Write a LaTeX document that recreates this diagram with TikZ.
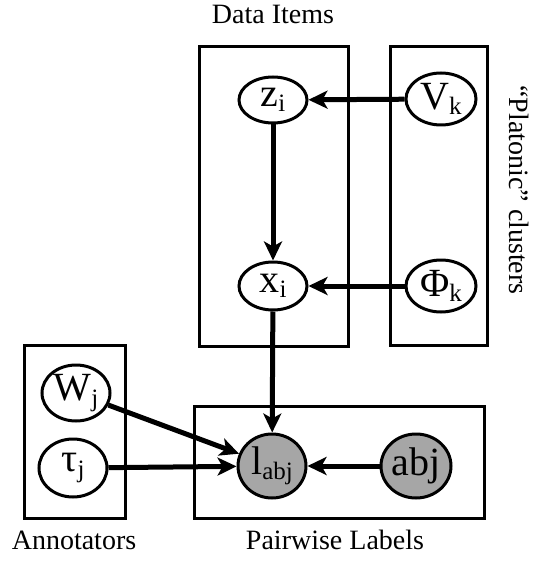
\documentclass[tikz,border=0pt]{standalone}
\usepackage{fontspec}
\setmainfont{Liberation Serif}
\newfontfamily\timesfont{Liberation Serif}
\usetikzlibrary{arrows.meta,shapes.geometric}
% lowered, smaller index text
\newcommand\idx[1]{\raisebox{-0.28ex}{\fontsize{25}{25}\selectfont #1}}
\tikzset{
  var/.style={draw, ellipse, line width=3pt, inner sep=0pt, font=\timesfont\fontsize{40}{40}\selectfont},
  obs/.style={var, fill=gray!70},
  plate/.style={draw, line width=3pt},
  edge/.style={line width=5pt, -{Stealth[length=19pt,width=18pt,inset=5pt]}},
  caption/.style={font=\timesfont\fontsize{28}{28}\selectfont, inner sep=0pt}
}
\begin{document}
\begin{tikzpicture}[x=1pt,y=-1pt]
\useasboundingbox (0,0) rectangle (532,561);
% plates
\draw[plate] (199,47) rectangle (348,346);
\draw[plate] (390,47) rectangle (487,345);
\draw[plate] (24,345) rectangle (125,518);
\draw[plate] (194,406) rectangle (484,518);
% plate captions
\node[caption] (cdata) at (273,14) {Data Items};
\node[caption, rotate=-90] (cclus) at (519,190) {“Platonic” clusters};
\node[caption] (cann) at (74,540) {Annotators};
\node[caption] (cpair) at (335,540) {Pairwise Labels};
% variables
\node[var, minimum width=68pt, minimum height=46pt] (z) at (273,100) {z\idx{i}};
\node[var, minimum width=70pt, minimum height=52pt] (V) at (441,99) {V\idx{k}};
\node[var, minimum width=68pt, minimum height=48pt] (x) at (273,286) {x\idx{i}};
\node[var, minimum width=70pt, minimum height=52pt] (Phi) at (441,286) {Φ\idx{k}};
\node[var, minimum width=68pt, minimum height=56pt] (W) at (76,393) {W\idx{j}};
\node[var, minimum width=68pt, minimum height=58pt] (tau) at (73,468) {τ\idx{j}};
\node[obs, minimum width=68pt, minimum height=64pt] (l) at (272,466) {l\idx{abj}};
\node[obs, minimum width=70pt, minimum height=64pt] (ab) at (416,466) {abj};
% dependencies
\draw[edge] (V) -- (z);
\draw[edge] (Phi) -- (x);
\draw[edge] (z) -- (x);
\draw[edge] (x) -- (l);
\draw[edge] (W) -- (l);
\draw[edge] (tau) -- (l);
\draw[edge] (ab) -- (l);
\end{tikzpicture}
\end{document}
